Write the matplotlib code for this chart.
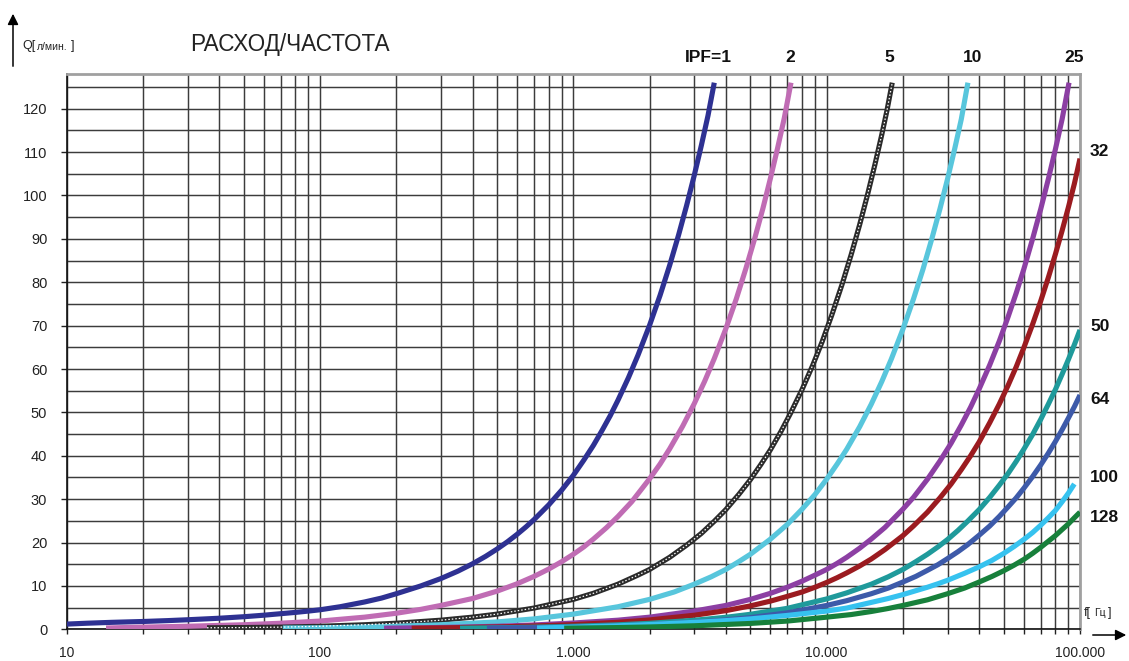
import matplotlib
matplotlib.use("Agg")
import matplotlib.pyplot as plt
import matplotlib.patches as mpatches
from matplotlib.ticker import FixedLocator, FixedFormatter, NullFormatter

# ---------------- data ----------------
f_1 = [10, 12, 15, 20, 25, 30, 40, 50, 60, 70, 80, 90, 100, 120, 150, 175, 200, 250, 300, 350,
       400, 450, 500, 550, 600, 650, 700, 800, 900, 1000, 1100, 1200, 1300, 1400, 1500, 1650,
       1800, 2000, 2200, 2400, 2600, 2800, 3000, 3200, 3400, 3600]
q_1 = [1.2, 1.4, 1.6, 1.8, 2.0, 2.2, 2.55, 2.9, 3.25, 3.6, 3.9, 4.2, 4.5, 5.2, 6.3, 7.2, 8.2, 10.0,
       11.7, 13.4, 15.1, 16.8, 18.5, 20.2, 21.9, 23.6, 25.3, 28.7, 32.1, 35.5, 39.0, 42.4, 45.9,
       49.3, 52.8, 58.0, 63.2, 70.1, 77.0, 83.9, 90.8, 97.7, 104.6, 111.5, 118.4, 126.0]

f_2 = [14.3, 20, 30, 40, 50, 70, 100, 150, 200, 250, 300, 400, 500, 600, 700, 800, 900, 1000,
       1100, 1200, 1350, 1500, 1700, 2000, 2200, 2400, 2700, 3000, 3300, 3600, 4000, 4400, 4800,
       5200, 5600, 6000, 6400, 6800, 7230]
q_2 = [0.3, 0.5, 0.7, 0.9, 1.05, 1.4, 1.9, 2.8, 3.7, 4.6, 5.5, 7.1, 8.8, 10.5, 12.2, 13.9, 15.6,
       17.3, 19.0, 20.8, 23.4, 26.0, 29.4, 34.7, 38.1, 41.6, 46.8, 52.0, 57.2, 62.4, 69.3, 76.2,
       83.2, 90.1, 97.0, 104.0, 110.9, 117.8, 126.0]

f_5 = [35.8, 50, 70, 100, 150, 200, 300, 400, 500, 700, 1000, 1200, 1500, 1800, 2000, 2400, 2800,
       3200, 3600, 4000, 4500, 5000, 5500, 6000, 6600, 7200, 8000, 8800, 9600, 10500, 11500,
       12500, 13500, 14500, 15500, 16500, 17300, 18150]
q_5 = [0.35, 0.4, 0.5, 0.7, 1.05, 1.4, 2.1, 2.8, 3.5, 4.9, 6.9, 8.3, 10.4, 12.5, 13.8, 16.6, 19.4,
       22.1, 24.9, 27.6, 31.1, 34.5, 38.0, 41.4, 45.6, 49.8, 55.3, 60.8, 66.3, 72.6, 79.5, 86.4,
       93.3, 100.2, 107.1, 114.0, 119.6, 126.0]

f_10 = [71.3, 100, 150, 200, 300, 500, 700, 1000, 1500, 2000, 2500, 3000, 3500, 4000, 4500, 5000,
        6000, 7000, 8000, 9000, 10000, 11000, 12000, 13500, 15000, 16500, 18000, 20000, 22000,
        24000, 26000, 28000, 30000, 32000, 34000, 36100]
q_10 = [0.3, 0.35, 0.52, 0.7, 1.05, 1.7, 2.4, 3.5, 5.2, 6.9, 8.6, 10.4, 12.1, 13.8, 15.6, 17.3,
        20.8, 24.2, 27.7, 31.1, 34.6, 38.1, 41.5, 46.7, 51.9, 57.1, 62.3, 69.2, 76.1, 83.0, 90.0,
        96.9, 103.8, 110.7, 117.6, 126.0]

f_25 = [179, 250, 350, 500, 700, 1000, 1500, 2000, 3000, 4000, 5000, 6000, 7000, 8000, 9000,
        10000, 11000, 12000, 13500, 15000, 17000, 20000, 22000, 25000, 28000, 31000, 34000,
        37000, 40000, 44000, 48000, 52000, 56000, 60000, 65000, 70000, 75000, 80000, 85000, 90500]
q_25 = [0.25, 0.35, 0.5, 0.7, 1.0, 1.45, 2.1, 2.8, 4.2, 5.5, 6.9, 8.3, 9.7, 11.1, 12.5, 13.8,
        15.2, 16.6, 18.7, 20.8, 23.5, 27.7, 30.4, 34.6, 38.8, 42.9, 47.1, 51.2, 55.4, 60.9, 66.4,
        72.0, 77.5, 83.0, 90.0, 96.9, 103.8, 110.7, 117.6, 126.0]

f_32 = [230, 300, 500, 700, 1000, 1500, 2000, 3000, 4000, 5000, 6000, 7000, 8000, 9000, 10000,
        11000, 12000, 13500, 15000, 17000, 20000, 22000, 25000, 28000, 31000, 34000, 37000,
        40000, 44000, 48000, 52000, 56000, 60000, 65000, 70000, 75000, 80000, 85000, 90000,
        95000, 100000]
q_32 = [0.25, 0.32, 0.54, 0.76, 1.08, 1.62, 2.16, 3.24, 4.3, 5.4, 6.5, 7.6, 8.6, 9.7, 10.8,
        11.9, 13.0, 14.6, 16.2, 18.4, 21.6, 23.8, 27.0, 30.3, 33.5, 36.8, 40.0, 43.2, 47.6,
        51.9, 56.2, 60.5, 64.9, 70.3, 75.7, 81.1, 86.5, 91.9, 97.3, 102.7, 108.5]

f_50 = [357, 500, 700, 1000, 1500, 2000, 3000, 4000, 5000, 7000, 10000, 12000, 15000, 17500,
        20000, 22500, 25000, 27500, 30000, 33000, 36000, 40000, 44000, 48000, 52000, 56000,
        60000, 65000, 70000, 75000, 80000, 85000, 90000, 95000, 100000]
q_50 = [0.25, 0.35, 0.48, 0.69, 1.04, 1.38, 2.08, 2.77, 3.46, 4.84, 7.0, 8.4, 10.4, 12.1, 13.8,
        15.6, 17.3, 19.0, 20.7, 22.8, 24.9, 27.6, 30.4, 33.2, 35.9, 38.7, 41.5, 44.9, 48.4,
        51.9, 55.3, 58.8, 62.2, 65.6, 69.0]

f_64 = [456, 700, 1000, 1500, 2000, 3000, 4000, 5000, 7000, 10000, 12000, 15000, 17500, 20000,
        22500, 25000, 27500, 30000, 33000, 36000, 40000, 44000, 48000, 52000, 56000, 60000,
        65000, 70000, 75000, 80000, 85000, 90000, 95000, 100000]
q_64 = [0.25, 0.38, 0.54, 0.81, 1.08, 1.62, 2.16, 2.7, 3.8, 5.5, 6.6, 8.2, 9.5, 10.9, 12.2,
        13.6, 14.9, 16.3, 17.9, 19.5, 21.7, 23.8, 26.0, 28.2, 30.3, 32.5, 35.2, 37.9, 40.6,
        43.3, 46.0, 48.7, 51.3, 54.0]

f_100 = [719, 1000, 1500, 2000, 3000, 4000, 5000, 7000, 10000, 12000, 15000, 17500, 20000,
         22500, 25000, 27500, 30000, 35000, 40000, 45000, 50000, 55000, 60000, 65000, 70000,
         75000, 80000, 85000, 90000, 95000]
q_100 = [0.3, 0.5, 0.8, 1.1, 1.6, 2.0, 2.4, 3.2, 4.2, 4.9, 6.2, 7.1, 8.0, 8.9, 9.7, 10.5, 11.3,
         12.9, 14.4, 15.9, 17.5, 19.1, 20.7, 22.3, 24.0, 25.7, 27.4, 29.4, 31.4, 33.5]

f_128 = [920, 1500, 2000, 3000, 5000, 7000, 10000, 12500, 15000, 17500, 20000, 25000, 30000,
         35000, 40000, 45000, 50000, 55000, 60000, 65000, 70000, 75000, 80000, 85000, 90000,
         95000, 100000]
q_128 = [0.25, 0.4, 0.54, 0.81, 1.35, 1.9, 2.8, 3.4, 4.1, 4.8, 5.5, 6.8, 8.2, 9.5, 10.9, 12.2,
         13.5, 14.8, 16.1, 17.5, 18.9, 20.3, 21.6, 23.0, 24.3, 25.7, 27.0]

series = [
    ("IPF=1", f_1, q_1, "#2e3192"),
    ("2", f_2, q_2, "#c06cb4"),
    ("5", f_5, q_5, "#2b2b2b"),
    ("10", f_10, q_10, "#58c6dc"),
    ("25", f_25, q_25, "#8c3fa3"),
    ("32", f_32, q_32, "#9b1b20"),
    ("50", f_50, q_50, "#1f9a9b"),
    ("64", f_64, q_64, "#3d5aa9"),
    ("100", f_100, q_100, "#36c2ef"),
    ("128", f_128, q_128, "#17803b"),
]

y_major = [0, 10, 20, 30, 40, 50, 60, 70, 80, 90, 100, 110, 120]
y_minor = [5, 15, 25, 35, 45, 55, 65, 75, 85, 95, 105, 115, 125]
x_major = [10, 100, 1000, 10000, 100000]
x_major_labels = ["10", "100", "1.000", "10.000", "100.000"]
x_minor = [m * d for d in (10, 100, 1000, 10000) for m in range(2, 10)]

# ---------------- figure ----------------
W, H = 1129, 661
fig = plt.figure(figsize=(W / 100, H / 100), dpi=100)
fig.patch.set_facecolor("white")


def fx(px):
    return px / W


def fy(py):
    return 1 - py / H


ax = fig.add_axes([fx(66.7), fy(629.3), fx(1080) - fx(66.7), fy(74) - fy(629.3)])
ax.set_xscale("log")
ax.set_xlim(10, 100000)
ax.set_ylim(0, 128)

ax.xaxis.set_major_locator(FixedLocator(x_major))
ax.xaxis.set_major_formatter(FixedFormatter(x_major_labels))
ax.xaxis.set_minor_locator(FixedLocator(x_minor))
ax.xaxis.set_minor_formatter(NullFormatter())
ax.yaxis.set_major_locator(FixedLocator(y_major))
ax.yaxis.set_minor_locator(FixedLocator(y_minor))

ax.grid(True, which="both", axis="both", color="#3c3c3c", linewidth=1.05)
ax.set_axisbelow(True)

tick_font = "Liberation Sans"
ax.tick_params(axis="x", which="both", direction="out", length=3.5, width=1.0,
               color="#222222", pad=8.5, labelsize=10, labelcolor="#222222")
ax.tick_params(axis="y", which="major", direction="out", length=4, width=1.0,
               color="#222222", pad=10, labelsize=10.5, labelcolor="#222222")
ax.tick_params(axis="y", which="minor", length=0)
for lab in ax.get_xticklabels() + ax.get_yticklabels():
    lab.set_fontfamily(tick_font)

for side in ("top", "right"):
    ax.spines[side].set_color("#a0a0a0")
    ax.spines[side].set_linewidth(2.0)
for side in ("left", "bottom"):
    ax.spines[side].set_color("#111111")
    ax.spines[side].set_linewidth(1.2)

for name, f, q, col in series:
    ax.plot(f, q, color=col, linewidth=3.7, solid_capstyle="butt",
            solid_joinstyle="round", zorder=3)
    if name == "5":
        ax.plot(f, q, color="white", linewidth=0.9, linestyle=(0, (1.2, 1.6)), zorder=3.1)

# ---------------- texts ----------------
txt = dict(family="Liberation Sans", color="#222222", va="center")
fig.text(fx(190), fy(45), "РАСХОД/ЧАСТОТА", fontsize=16.3, ha="left", **txt)

# y-axis label  Q[л/мин.]
fig.text(fx(22), fy(46.5), "Q[", fontsize=9, ha="left", **txt)
fig.text(fx(37), fy(46.5), "л/мин.", fontsize=7.5, ha="left", **txt)
fig.text(fx(71), fy(46.5), "]", fontsize=9, ha="left", **txt)

# x-axis label  f[ Гц ]
fig.text(fx(1084), fy(613), "f[", fontsize=9, ha="left", **txt)
fig.text(fx(1094), fy(613.5), "Гц", fontsize=7.5, ha="left", **txt)
fig.text(fx(1108), fy(613), "]", fontsize=9, ha="left", **txt)

# arrows
fig.add_artist(mpatches.FancyArrowPatch(
    (fx(13), fy(69)), (fx(13), fy(11)), transform=fig.transFigure,
    arrowstyle="-|>", mutation_scale=16, color="black", linewidth=1.1))
fig.add_artist(mpatches.FancyArrowPatch(
    (fx(1090), fy(635)), (fx(1129), fy(635)), transform=fig.transFigure,
    arrowstyle="-|>", mutation_scale=16, color="black", linewidth=1.1))

# IPF labels
lab_kw = dict(fontsize=12.5, family="Liberation Sans", fontweight="bold", color="#111111")
top_pos = {"IPF=1": 708, "2": 790, "5": 889, "10": 973, "25": 1074}
right_pos = {"32": 152, "50": 327, "64": 400, "100": 478, "128": 517}
for name, f, q, col in series:
    if name in top_pos:
        fig.text(fx(top_pos[name]), fy(58), name, ha="center", va="center", **lab_kw)
    else:
        fig.text(fx(1090), fy(right_pos[name]), name, ha="left", va="center", **lab_kw)

fig.savefig("out.png", dpi=100, facecolor="white")
